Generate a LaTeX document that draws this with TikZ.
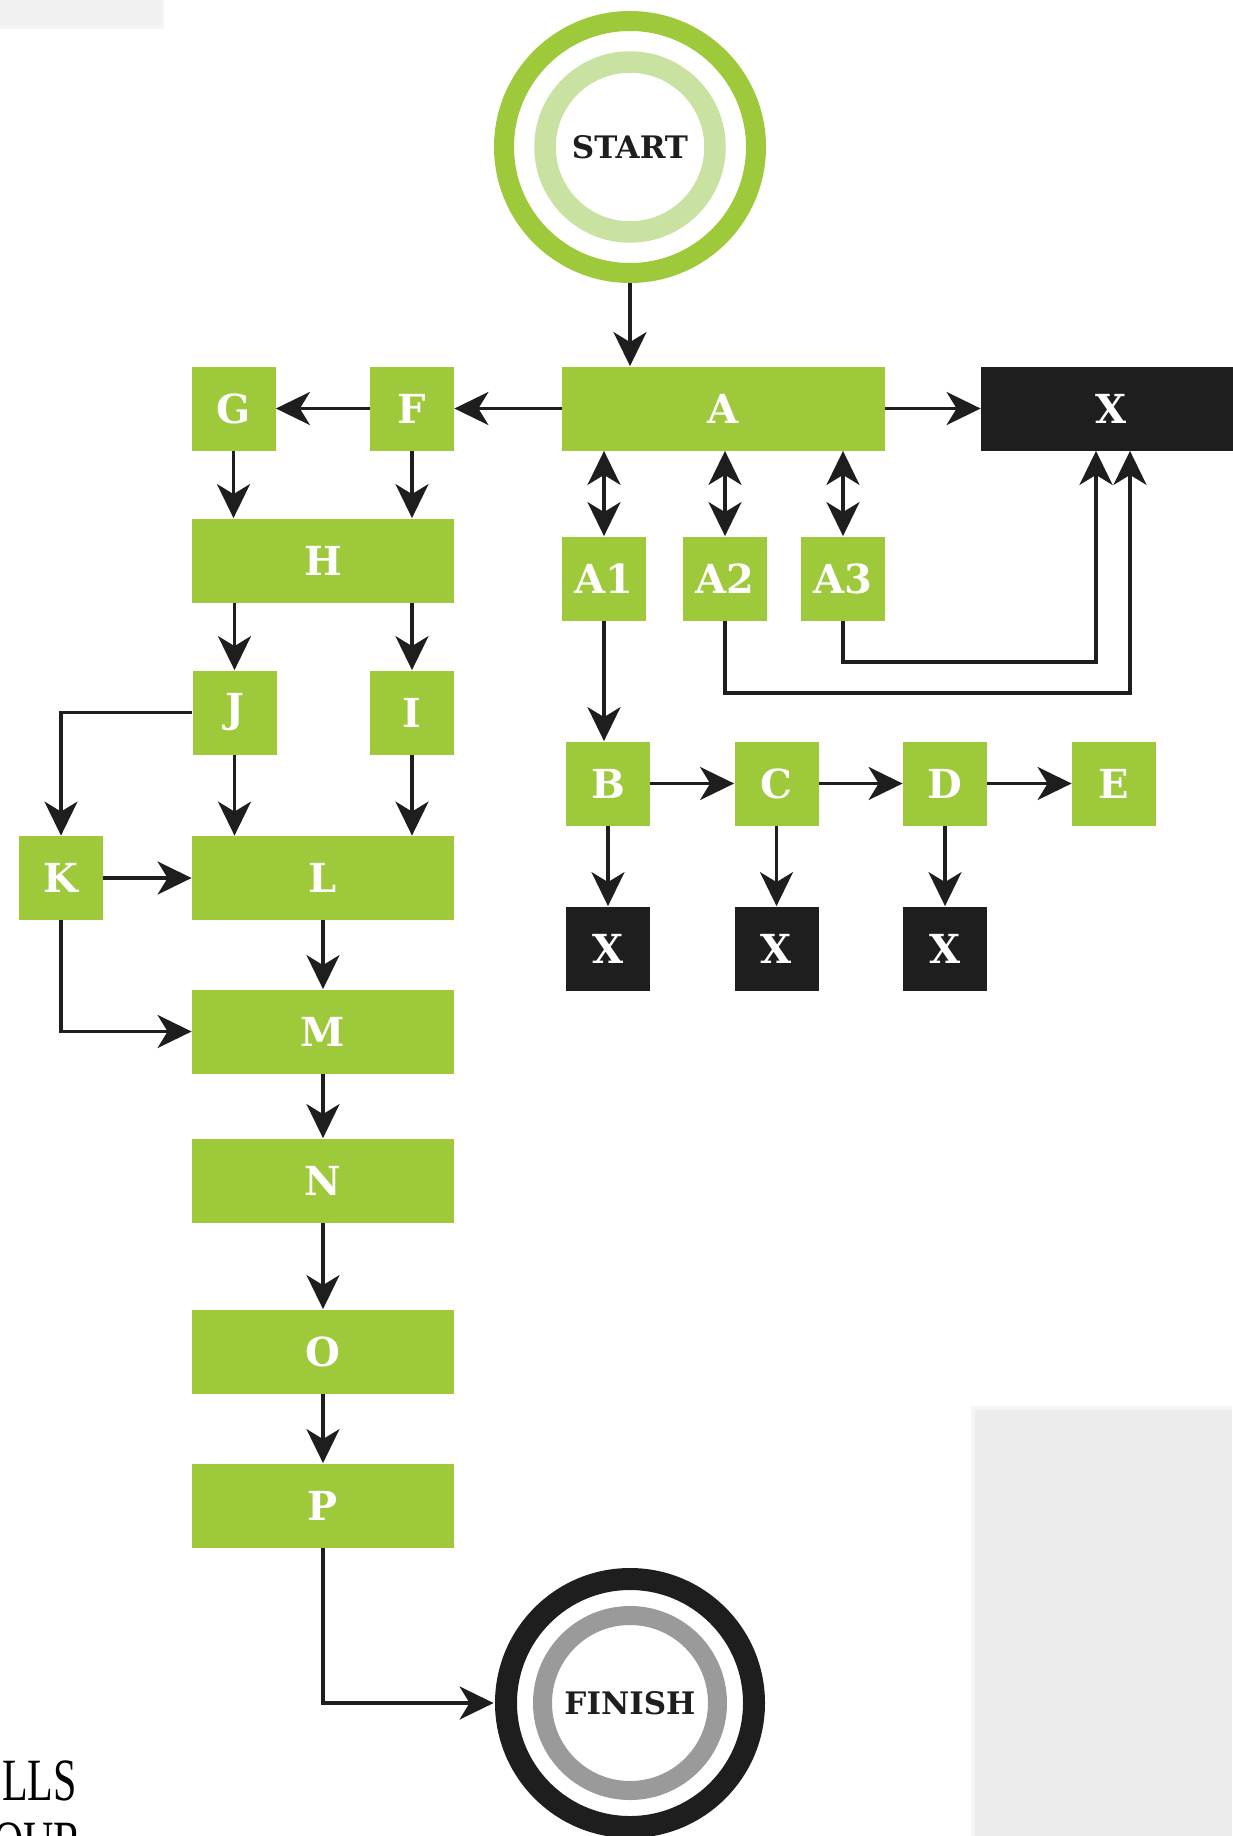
\documentclass[tikz,border=0pt]{standalone}
\usepackage{fontspec}
\setmainfont{DejaVu Serif}
\newfontfamily\bodyserif{Liberation Serif}
\usetikzlibrary{arrows.meta}

\definecolor{leaf}{HTML}{9DC93B}
\definecolor{leaflight}{HTML}{C9E2A1}
\definecolor{ink}{HTML}{1E1E1E}
\definecolor{ringgray}{HTML}{9A9A9A}
\definecolor{panel}{HTML}{F0F0F0}
\definecolor{panelb}{HTML}{EBEBEB}

\begin{document}
\begin{tikzpicture}[x=0.5pt,y=-0.5pt,
  box/.style={rectangle, fill=leaf, text=white, inner sep=0pt,
    font=\bfseries\fontsize{20}{20}\selectfont,
    minimum width=42pt, minimum height=42pt},
  widebox/.style={box, minimum width=131pt},
  stopbox/.style={box, fill=ink},
  ring/.style={circle, inner sep=0pt, minimum size=136pt, text=ink,
    font=\bfseries\fontsize{15.5}{15.5}\selectfont},
  tip/.tip={Stealth[length=17pt,width=16.5pt,inset=5pt]},
  flow/.style={draw=ink, line width=1.7pt, -tip},
  twoway/.style={draw=ink, line width=1.7pt, tip-tip},
  wire/.style={draw=ink, line width=1.7pt}
]
\useasboundingbox (0,0) rectangle (1232,1836);

% grey side panels
\fill[black!4] (0,0) rectangle (164,29);
\fill[panel] (0,0) rectangle (161,25);
\fill[black!4] (971,1406) rectangle (1232,1836);
\fill[panelb] (975,1410) rectangle (1232,1836);

% partial caption at the lower left
\node[anchor=base east, inner sep=0pt, xscale=0.7, transform shape,
  font=\bodyserif\fontsize{30}{30}\selectfont] (cap1) at (77,1800) {LLS};
\node[anchor=base east, inner sep=0pt, xscale=0.7, transform shape,
  font=\bodyserif\fontsize{30}{30}\selectfont] (cap2) at (82,1862) {OUR};

% start and finish rings
\node[ring] (start) at (630,147) {START};
\draw[leaf, line width=10pt] (start.center) circle (63pt);
\draw[leaflight, line width=10.75pt] (start.center) circle (42.5pt);

\node[ring] (finish) at (630,1703) {FINISH};
\draw[ink, line width=11pt] (finish.center) circle (62pt);
\draw[ringgray, line width=9.5pt] (finish.center) circle (43.75pt);

% top row
\node[box, minimum width=161.5pt] (A) at (723.5,408.5) {A};
\node[box] (F) at (412,408.5) {F};
\node[box] (G) at (233.5,408.5) {G};
\node[stopbox, minimum width=130pt] (XA) at (1111,408.5) {X};

% sub-steps of A
\node[box] (A1) at (604,578.5) {A1};
\node[box] (A2) at (725,578.5) {A2};
\node[box] (A3) at (843,578.5) {A3};

% B to E chain with its exits
\node[box] (B) at (608,783.5) {B};
\node[box] (C) at (776.5,783.5) {C};
\node[box] (D) at (945,783.5) {D};
\node[box] (E) at (1114,783.5) {E};
\node[stopbox] (XB) at (608,948.5) {X};
\node[stopbox] (XC) at (776.5,948.5) {X};
\node[stopbox] (XD) at (945,948.5) {X};

% left column
\node[widebox] (H) at (323,560.5) {H};
\node[box] (J) at (234.5,712.5) {J};
\node[box] (I) at (412,712.5) {I};
\node[box] (K) at (61,878) {K};
\node[widebox] (L) at (323,878) {L};
\node[widebox] (M) at (323,1031.5) {M};
\node[widebox] (N) at (323,1180.5) {N};
\node[widebox] (O) at (323,1351.5) {O};
\node[widebox] (P) at (323,1505.5) {P};

% turning points of the routed lines
\coordinate (a2turn) at (1130,693);
\coordinate (a3turn) at (1096,662);
\coordinate (jturn) at (61,712.5);
\coordinate (kturn) at (61,1031.5);
\coordinate (pturn) at (323,1703);

% connectors
\draw[flow] (start.south) -- (start.south |- A.north);
\draw[flow] (A.west) -- (F.east);
\draw[flow] (F.west) -- (G.east);
\draw[flow] (A.east) -- (XA.west);

\draw[twoway] (A1.north) -- (A1.north |- A.south);
\draw[twoway] (A2.north) -- (A2.north |- A.south);
\draw[twoway] (A3.north) -- (A3.north |- A.south);

\draw[flow] (A2.south) |- (a2turn) -- (a2turn |- XA.south);
\draw[flow] (A3.south) |- (a3turn) -- (a3turn |- XA.south);

\draw[flow] (A1.south) -- (A1.south |- B.north);
\draw[flow] (B.east) -- (C.west);
\draw[flow] (C.east) -- (D.west);
\draw[flow] (D.east) -- (E.west);
\draw[flow] (B.south) -- (XB.north);
\draw[flow] (C.south) -- (XC.north);
\draw[flow] (D.south) -- (XD.north);

\draw[flow] (G.south) -- (G.south |- H.north);
\draw[flow] (F.south) -- (F.south |- H.north);
\draw[flow] (J.north |- H.south) -- (J.north);
\draw[flow] (I.north |- H.south) -- (I.north);

\draw[flow] (J.west) -- (jturn) -- (K.north);
\draw[flow] (J.south) -- (J.south |- L.north);
\draw[flow] (I.south) -- (I.south |- L.north);
\draw[flow] (K.east) -- (L.west);
\draw[flow] (K.south) -- (kturn) -- (M.west);
\draw[flow] (L.south) -- (M.north);
\draw[flow] (M.south) -- (N.north);
\draw[flow] (N.south) -- (O.north);
\draw[flow] (O.south) -- (P.north);
\draw[flow] (P.south) -- (pturn) -- (finish.west);
\end{tikzpicture}
\end{document}
